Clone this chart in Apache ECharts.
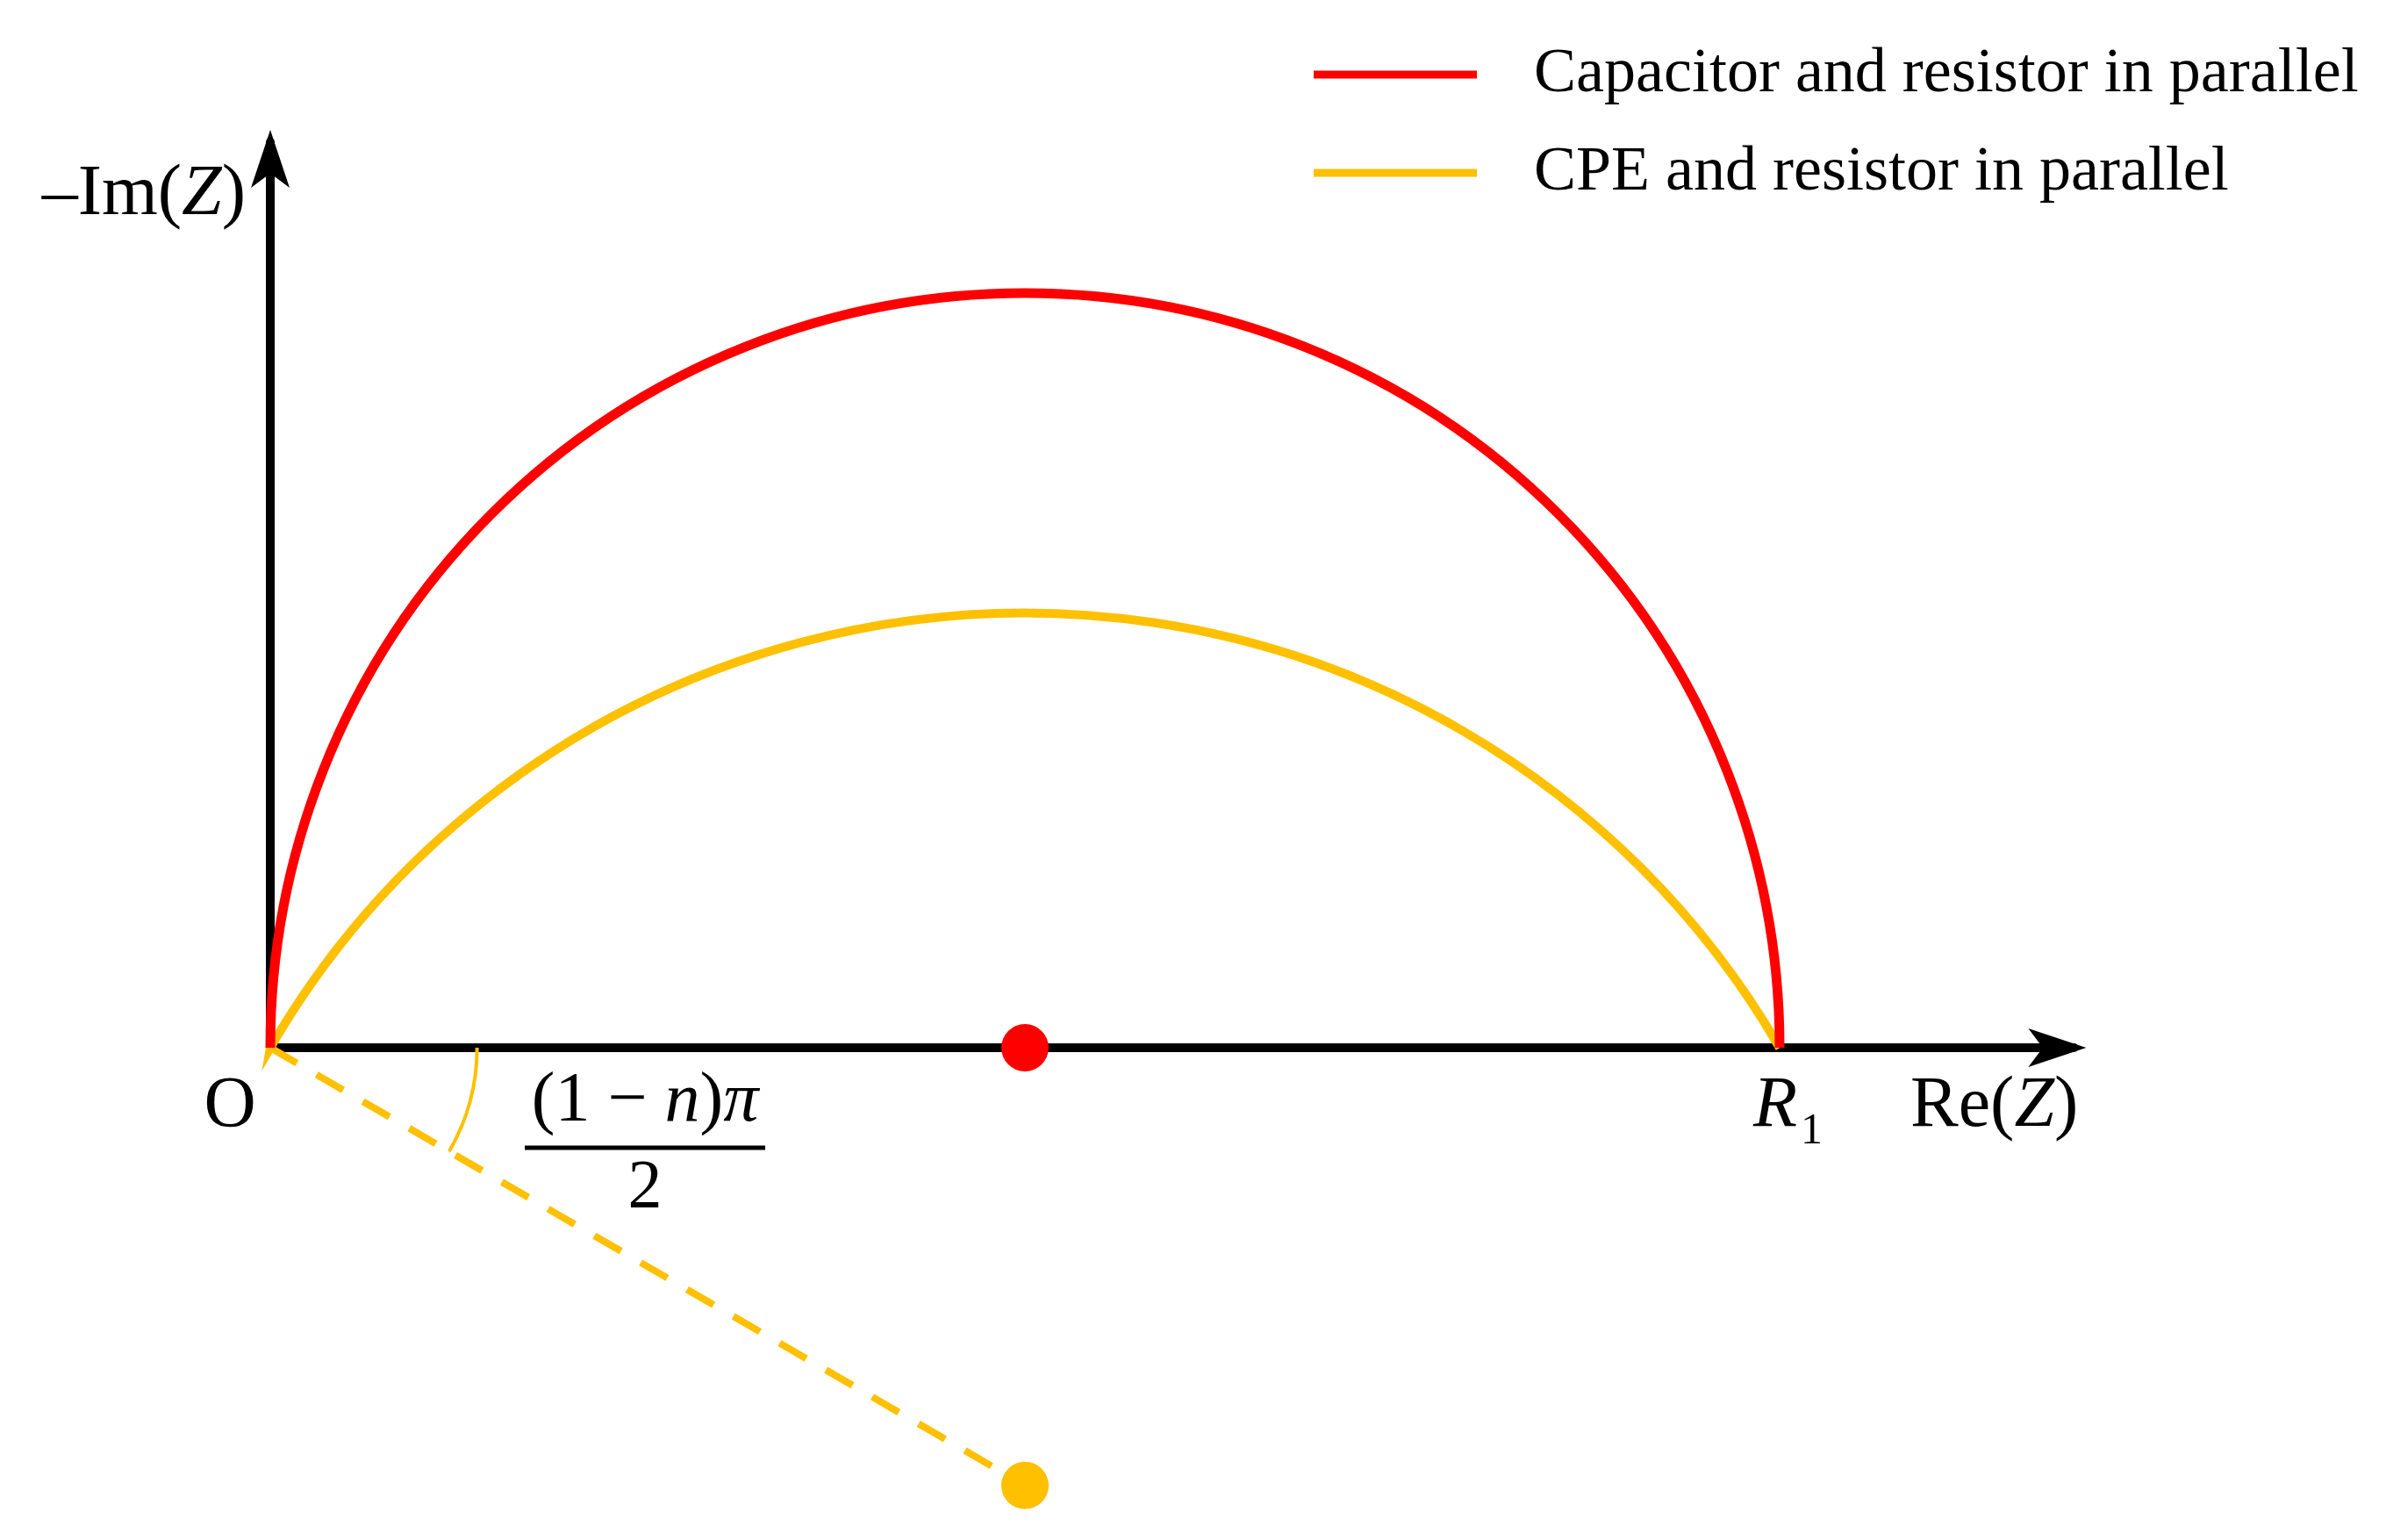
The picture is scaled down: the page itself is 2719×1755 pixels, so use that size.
<!DOCTYPE html>
<html>
<head>
<meta charset="utf-8">
<script src="https://cdn.jsdelivr.net/npm/echarts@6/dist/echarts.min.js"></script>
<style>
html, body { margin: 0; padding: 0; background: #ffffff; }
#chart { width: 2719px; height: 1755px; }
</style>
</head>
<body>
<div id="chart"></div>
<script>
// ---- data (in units of R1) ----
const seriesNames = ['Capacitor and resistor in parallel', 'CPE and resistor in parallel'];
// arc: [centre Re, centre -Im, radius, start angle (deg), end angle (deg)]
const redArc = [[0.5, 0, 0.5, 0, 180]];
const yellowArc = [[0.5, -0.29, 0.578, 30.1, 149.9]];
const angleArc = [[0, 0, 0.137, -30.1, 0]];
const dashedRadius = [[0, 0], [0.5, -0.29]];
const redCenter = [[0.5, 0]];
const yellowCenter = [[0.5, -0.29]];
const xRange = [0, 1.195];
const yRange = [-0.3, 0.6];

// ---- styles ----
const RED = '#FF0000';
const GOLD = '#FFC000';
const FONT = '"Liberation Serif", "Times New Roman", serif';
const UNIT = 1720;       // pixels per R1 on both axes (equal aspect)
const ORIGIN_X = 308;
const ORIGIN_Y = 1194;

function arcRenderer(color, width) {
  return function (params, api) {
    const c = api.coord([api.value(0), api.value(1)]);
    const r = api.size([api.value(2), 0])[0];
    const a0 = api.value(3) * Math.PI / 180;
    const a1 = api.value(4) * Math.PI / 180;
    return {
      type: 'arc',
      shape: { cx: c[0], cy: c[1], r: r, startAngle: -a1, endAngle: -a0, clockwise: true },
      style: { stroke: color, lineWidth: width, fill: 'none' }
    };
  };
}

const gridTop = ORIGIN_Y - yRange[1] * UNIT;
const gridWidth = (xRange[1] - xRange[0]) * UNIT;

const chart = echarts.init(document.getElementById('chart'), null, { renderer: 'canvas' });

const hiddenAxisParts = {
  axisTick: { show: false },
  axisLabel: { show: false },
  splitLine: { show: false }
};

const arrowLine = {
  show: true,
  symbol: ['none', 'arrow'], symbolSize: [33, 66], symbolOffset: [0, 14],
  lineStyle: { color: '#000000', width: 10 }
};

const option = {
  backgroundColor: '#ffffff',
  animation: false,
  legend: {
    data: seriesNames,
    orient: 'vertical',
    left: 1492,
    top: 32,
    itemWidth: 186,
    itemHeight: 9,
    itemGap: 16,
    icon: 'rect',
    selectedMode: false,
    textStyle: {
      fontFamily: FONT,
      fontSize: 72,
      color: '#000000',
      lineHeight: 80,
      padding: [16, 0, 0, 60]
    }
  },
  grid: [
    { left: ORIGIN_X, top: gridTop, width: gridWidth, height: (yRange[1] - yRange[0]) * UNIT },
    { left: ORIGIN_X, top: gridTop, width: gridWidth, height: yRange[1] * UNIT }
  ],
  xAxis: [
    Object.assign({
      gridIndex: 0, type: 'value', min: xRange[0], max: xRange[1],
      axisLine: Object.assign({ onZero: true }, arrowLine)
    }, hiddenAxisParts),
    { gridIndex: 1, type: 'value', min: xRange[0], max: xRange[1], show: false }
  ],
  yAxis: [
    Object.assign({
      gridIndex: 0, type: 'value', min: yRange[0], max: yRange[1],
      axisLine: { show: false }
    }, hiddenAxisParts),
    Object.assign({
      gridIndex: 1, type: 'value', min: 0, max: yRange[1],
      axisLine: Object.assign({ onZero: false }, arrowLine)
    }, hiddenAxisParts)
  ],
  series: [
    {
      type: 'line', name: 'radius', xAxisIndex: 0, yAxisIndex: 0,
      data: dashedRadius, symbol: 'none', silent: true, z: 3,
      lineStyle: { color: GOLD, width: 8, type: [35, 26] }
    },
    {
      type: 'custom', name: 'angle', xAxisIndex: 0, yAxisIndex: 0,
      data: angleArc, encode: { x: 0, y: 1 }, silent: true, z: 3,
      itemStyle: { color: GOLD },
      renderItem: arcRenderer(GOLD, 4)
    },
    {
      type: 'custom', name: seriesNames[1], xAxisIndex: 0, yAxisIndex: 0,
      data: yellowArc, encode: { x: 0, y: 1 }, silent: true, z: 4,
      itemStyle: { color: GOLD },
      renderItem: arcRenderer(GOLD, 10)
    },
    {
      type: 'custom', name: seriesNames[0], xAxisIndex: 0, yAxisIndex: 0,
      data: redArc, encode: { x: 0, y: 1 }, silent: true, z: 5,
      itemStyle: { color: RED },
      renderItem: arcRenderer(RED, 11)
    },
    {
      type: 'scatter', name: 'centre1', xAxisIndex: 0, yAxisIndex: 0,
      data: redCenter, symbol: 'circle', symbolSize: 54, silent: true, z: 6,
      itemStyle: { color: RED, opacity: 1 }
    },
    {
      type: 'scatter', name: 'centre2', xAxisIndex: 0, yAxisIndex: 0,
      data: yellowCenter, symbol: 'circle', symbolSize: 54, silent: true, z: 6,
      itemStyle: { color: GOLD, opacity: 1 }
    }
  ],
  graphic: [
    {
      type: 'text', x: 280, y: 222, z: 10,
      style: {
        text: '{n|–Im(}{i|Z}{n|)}', align: 'right', verticalAlign: 'middle',
        rich: {
          n: { fontFamily: FONT, fontSize: 82, color: '#000' },
          i: { fontFamily: FONT, fontSize: 82, fontStyle: 'italic', color: '#000' }
        }
      }
    },
    {
      type: 'text', x: 262, y: 1261, z: 10,
      style: { text: 'O', fontFamily: FONT, fontSize: 82, fill: '#000', align: 'center', verticalAlign: 'middle' }
    },
    {
      type: 'text', x: 1998, y: 1261, z: 10,
      style: { text: 'R', fontFamily: FONT, fontSize: 82, fontStyle: 'italic', fill: '#000', align: 'left', verticalAlign: 'middle' }
    },
    {
      type: 'text', x: 2052, y: 1290, z: 10,
      style: { text: '1', fontFamily: FONT, fontSize: 50, fill: '#000', align: 'left', verticalAlign: 'middle' }
    },
    {
      type: 'text', x: 2177, y: 1261, z: 10,
      style: {
        text: '{n|Re(}{i|Z}{n|)}', align: 'left', verticalAlign: 'middle',
        rich: {
          n: { fontFamily: FONT, fontSize: 82, color: '#000' },
          i: { fontFamily: FONT, fontSize: 82, fontStyle: 'italic', color: '#000' }
        }
      }
    },
    {
      type: 'text', x: 735, y: 1256, z: 10,
      style: {
        text: '{n|(1 − }{i|n}{n|)}{i|π}', align: 'center', verticalAlign: 'middle',
        rich: {
          n: { fontFamily: FONT, fontSize: 80, color: '#000' },
          i: { fontFamily: FONT, fontSize: 80, fontStyle: 'italic', color: '#000' }
        }
      }
    },
    {
      type: 'line', z: 10,
      shape: { x1: 598, y1: 1308, x2: 872, y2: 1308 },
      style: { stroke: '#000', lineWidth: 5 }
    },
    {
      type: 'text', x: 735, y: 1355, z: 10,
      style: { text: '2', fontFamily: FONT, fontSize: 78, fill: '#000', align: 'center', verticalAlign: 'middle' }
    }
  ]
};

chart.setOption(option);
</script>
</body>
</html>
